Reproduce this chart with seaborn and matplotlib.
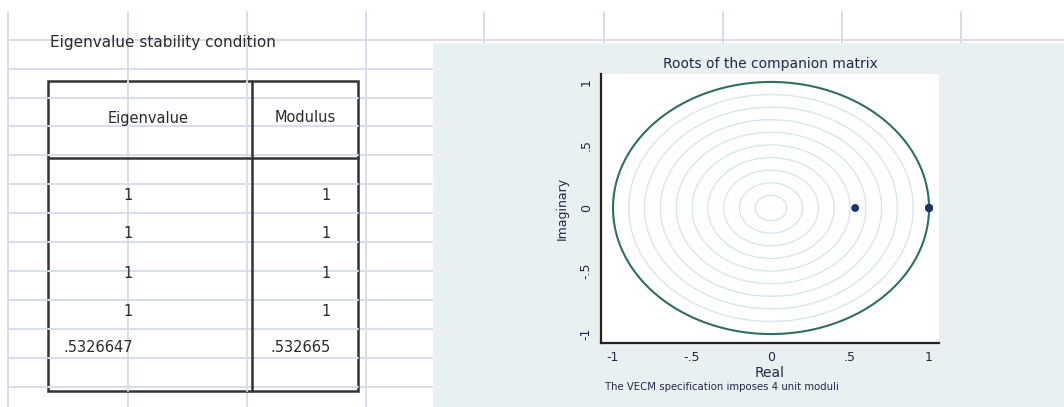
import numpy as np
import pandas as pd
import matplotlib
matplotlib.use("Agg")
import matplotlib.pyplot as plt
from matplotlib.patches import Rectangle
import seaborn as sns

# ==========================================
# DATA
# ==========================================
eig_real = [1, 1, 1, 1, 0.5326647]
eig_imag = [0, 0, 0, 0, 0]
eig_labels = ["1", "1", "1", "1", ".5326647"]
mod_labels = ["1", "1", "1", "1", ".532665"]
ring_radii = [0.1, 0.2, 0.3, 0.4, 0.5, 0.6, 0.7, 0.8, 0.9]
tick_vals = [-1, -0.5, 0, 0.5, 1]
tick_text = ["-1", "-.5", "0", ".5", "1"]

roots = pd.DataFrame({"real": eig_real, "imag": eig_imag})

sns.set_style("white")
plt.rcParams["font.family"] = ["DejaVu Sans"]

W, H = 1064, 407
fig = plt.figure(figsize=(W / 100, H / 100), dpi=100)

# ==========================================
# SPREADSHEET BACKGROUND (pixel coords)
# ==========================================
bg = fig.add_axes([0, 0, 1, 1])
bg.set_xlim(0, W)
bg.set_ylim(H, 0)
bg.axis("off")

grid_col = "#d6ddeb"
for gx in [8, 128, 247, 366, 484, 604, 723, 842, 961]:
    bg.plot([gx, gx], [12, H], color=grid_col, lw=1.4, zorder=0)
for gy in [40, 69, 98, 126, 155, 184, 213, 242, 271, 300, 329, 358, 387]:
    bg.plot([8, W], [gy, gy], color=grid_col, lw=1.4, zorder=0)

# table
cond_font = ["Liberation Sans Narrow", "DejaVu Sans"]
txt_col = "#2a2a2a"
bg.text(50, 43, "Eigenvalue stability condition", fontsize=11,
        family=cond_font, color=txt_col, va="center", ha="left")
bg.add_patch(Rectangle((48, 81), 310, 310, fill=True, facecolor="white",
                       edgecolor="#333333", lw=1.8, zorder=1))
# sheet grid shows through the table
for gy in [98, 126, 155, 184, 213, 242, 271, 300, 329, 358, 387]:
    bg.plot([48, 358], [gy, gy], color=grid_col, lw=1.4, zorder=2)
for gx in [128, 247]:
    bg.plot([gx, gx], [81, 391], color=grid_col, lw=1.4, zorder=2)
bg.plot([252, 252], [81, 391], color="#333333", lw=1.8, zorder=3)
bg.plot([48, 358], [158, 158], color="#333333", lw=1.8, zorder=3)
bg.text(148, 118, "Eigenvalue", fontsize=10.5, family=cond_font,
        color=txt_col, ha="center", va="center", zorder=4)
bg.text(305, 118, "Modulus", fontsize=10.5, family=cond_font,
        color=txt_col, ha="center", va="center", zorder=4)
row_y = [195, 234, 273, 311, 348]
for ry, el, ml in zip(row_y, eig_labels, mod_labels):
    bg.text(133, ry, el, fontsize=10.5, family=cond_font, color=txt_col,
            ha="right", va="center", zorder=4)
    bg.text(331, ry, ml, fontsize=10.5, family=cond_font, color=txt_col,
            ha="right", va="center", zorder=4)

# chart panel
bg.add_patch(Rectangle((433, 43), W - 433, H - 43, facecolor="#e9f0f2",
                       edgecolor="none", zorder=5))
bg.text(770, 64, "Roots of the companion matrix", fontsize=10,
        color="#1e2a45", ha="center", va="center", zorder=6)
bg.text(605, 387, "The VECM specification imposes 4 unit moduli", fontsize=7.3,
        color="#1e2a45", ha="left", va="center", zorder=6)

# ==========================================
# ROOTS PLOT
# ==========================================
left, right, top, bottom = 601, 939, 74, 343
ax = fig.add_axes([left / W, 1 - bottom / H, (right - left) / W, (bottom - top) / H])
ax.set_facecolor("white")

theta = np.linspace(0, 2 * np.pi, 400)
for r in ring_radii:
    ax.plot(r * np.cos(theta), r * np.sin(theta), color="#d5e8eb", lw=1.0, zorder=1)
ax.plot(np.cos(theta), np.sin(theta), color="#2f6e62", lw=1.5, zorder=2)

sns.scatterplot(data=roots, x="real", y="imag", ax=ax, color="#1b3766",
                s=32, edgecolor="none", zorder=3, legend=False)

ax.set_xlim(-1.076, 1.063)
ax.set_ylim(-1.071, 1.063)
ax.set_xticks(tick_vals)
ax.set_xticklabels(tick_text)
ax.set_yticks(tick_vals)
ax.set_yticklabels(tick_text, rotation=90, va="center")
ax.tick_params(axis="both", direction="out", length=4, width=1, color="#222222",
               labelsize=9, labelcolor="#1e2a45", pad=2)
for s in ["top", "right"]:
    ax.spines[s].set_visible(False)
for s in ["left", "bottom"]:
    ax.spines[s].set_color("#222222")
    ax.spines[s].set_linewidth(1.6)
ax.set_xlabel("Real", fontsize=10, color="#1e2a45")
ax.set_ylabel("Imaginary", fontsize=9, color="#1e2a45")
ax.xaxis.set_label_coords(0.5, -0.085)
ax.yaxis.set_label_coords(-0.095, 0.5)

fig.savefig("out.png", dpi=100)
